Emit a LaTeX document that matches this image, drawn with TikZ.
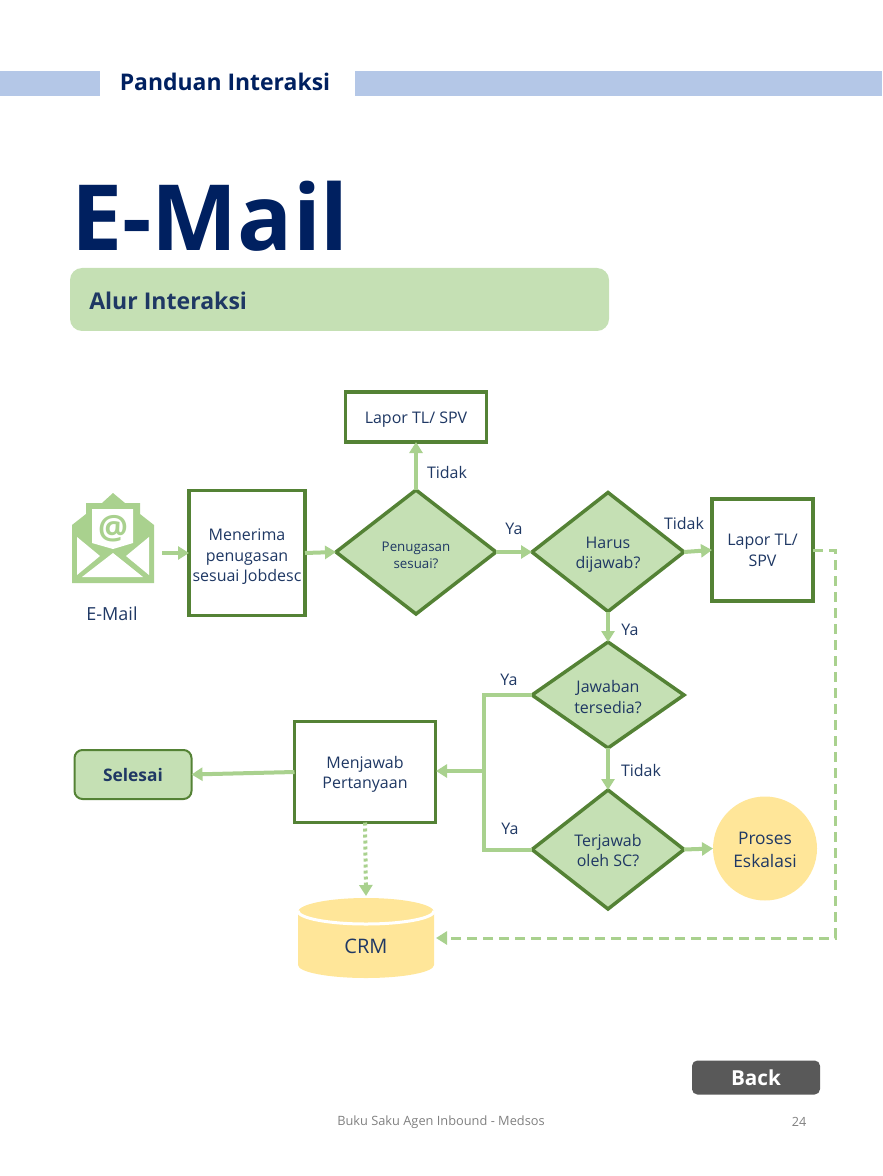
\documentclass[tikz,border=0pt]{standalone}
\usepackage{fontspec}
\setmainfont{Open Sans}
\usetikzlibrary{arrows.meta,calc,positioning,shapes.geometric}
\definecolor{DarkGreen}{HTML}{548235}
\definecolor{LightGreen}{HTML}{C5E0B4}
\definecolor{ArrowGreen}{HTML}{A9D18E}
\definecolor{Navy}{HTML}{1F3864}
\definecolor{TitleBlue}{HTML}{002060}
\definecolor{BarBlue}{HTML}{B4C7E7}
\definecolor{CrmYellow}{HTML}{FFE699}
\newcommand{\px}{0.75pt}
\tikzstyle{box} = [rectangle, draw=DarkGreen, line width=3.5*\px, fill=white, text=Navy, align=center, outer sep=0pt, inner sep=0pt, font=\fontsize{12}{15.5}\selectfont]
\tikzstyle{decision} = [diamond, draw=DarkGreen, line width=3.5*\px, fill=LightGreen, text=Navy, align=center, outer sep=0pt, inner sep=0pt, font=\fontsize{12}{15.5}\selectfont]
\tikzstyle{lbl} = [text=Navy, font=\fontsize{12}{14}\selectfont]
\tikzstyle{arrowg} = [draw=ArrowGreen, line width=4*\px, -{Triangle[length=11*\px,width=13*\px]}]
\tikzset{lowered/.style={execute at begin node=\rule{0pt}{#1}}}
\begin{document}
\begin{tikzpicture}[x=\px,y=-\px]
\useasboundingbox (0,0) rectangle (882,1176);
% header
\fill[BarBlue] (0,71) rectangle (100,96);
\fill[BarBlue] (355,71) rectangle (882,96);
\node[text=TitleBlue, font=\fontsize{17.2}{20}\bfseries\selectfont] (head) at (225,81.5) {Panduan Interaksi};
\node[text=TitleBlue, font=\fontsize{68.5}{70}\bfseries\selectfont] (title) at (210,216) {E-Mail};
\node[fill=LightGreen, rounded corners=9pt, minimum width=539*\px, minimum height=63*\px, inner sep=0pt] (band) at (339.5,299.5) {};
\node[text=Navy, font=\fontsize{17.3}{20}\bfseries\selectfont, anchor=west, inner sep=0pt] (alur) at (89,301) {Alur Interaksi};
% mail icon
\fill[ArrowGreen] (72,525)--(86,514)--(86,503)--(102,503)--(113,493)--(125,503)--(140,503)--(140,514)--(154,525)--(154,583)--(72,583)--cycle;
\fill[white] (92,509)--(133,509)--(133,543)--(113,549)--(92,543)--cycle;
\fill[white] (77,537)--(100,556)--(77,575)--cycle;
\fill[white] (149,537)--(126,556)--(149,575)--cycle;
\fill[white] (82,577)--(113,553)--(143,577)--cycle;
\node[text=ArrowGreen, font=\fontsize{25}{27}\bfseries\selectfont, inner sep=0pt] (at) at (113,529) {@};
\coordinate (mailout) at (162,553);
\node[lbl, font=\fontsize{13.5}{15}\selectfont] (mail) at (112,614) {E-Mail};
% flow
\node[box, lowered=45.5pt, minimum width=116*\px, minimum height=125*\px] (terima) at (247,553) {Menerima\\penugasan\\sesuai Jobdesc};
\node[decision, lowered=25.3pt, minimum width=160*\px, minimum height=124*\px, font=\fontsize{10}{13.3}\selectfont] (sesuai) at (416,552) {Penugasan\\sesuai?};
\node[box, lowered=12pt, minimum width=141*\px, minimum height=50*\px] (tl1) at (416,417) {Lapor TL/ SPV};
\node[decision, lowered=27.9pt, minimum width=152*\px, minimum height=119*\px] (harus) at (608,552) {Harus\\dijawab?};
\node[box, lowered=24.9pt, minimum width=101*\px, minimum height=102*\px] (tl2) at (762.5,550) {Lapor TL/\\SPV};
\node[decision, lowered=28pt, minimum width=152*\px, minimum height=106*\px] (jawaban) at (608,695) {Jawaban\\tersedia?};
\node[decision, lowered=26pt, minimum width=152*\px, minimum height=119*\px] (sc) at (608,849.5) {Terjawab\\oleh SC?};
\node[circle, lowered=28pt, fill=CrmYellow, minimum size=104*\px, inner sep=0pt, outer sep=0pt, text=Navy, align=center, font=\fontsize{13}{17}\selectfont] (eskalasi) at (765,848.5) {Proses\\Eskalasi};
\node[box, lowered=27.9pt, minimum width=141*\px, minimum height=101*\px] (jawab) at (365,772) {Menjawab\\Pertanyaan};
\node[draw=DarkGreen, line width=2*\px, fill=LightGreen, rounded corners=6pt, minimum width=117*\px, minimum height=49*\px, inner sep=0pt, outer sep=0pt, text=Navy, font=\fontsize{13}{15}\bfseries\selectfont] (selesai) at (133,774.5) {Selesai};
% crm
\fill[CrmYellow] (298,912) -- (298,965) arc[start angle=180, end angle=360, x radius=68, y radius=-13] -- (434,912) arc[start angle=0, end angle=180, x radius=68, y radius=-14] -- cycle;
\draw[white, line width=3*\px] (298,911) arc[start angle=180, end angle=360, x radius=68, y radius=-13];
\node[minimum width=136*\px, minimum height=80*\px, inner sep=0pt, outer sep=0pt] (crm) at (366,938) {};
\node[text=Navy, font=\fontsize{15}{17}\selectfont] (crmtxt) at (366,946) {CRM};
% connectors
\coordinate (crmtop) at (366,896);
\coordinate (crmright) at (436,938);
\coordinate (elbow) at (484,771);
\coordinate (jawabin) at (436,771);
\coordinate (dashtop) at (835,550);
\coordinate (dashbot) at (835,938);
\draw[arrowg] (mailout) -- (terima.west);
\draw[arrowg] (terima.east) -- (sesuai.west);
\draw[arrowg] (sesuai.north) -- (tl1.south);
\draw[arrowg] (sesuai.east) -- (harus.west);
\draw[arrowg] (harus.east) -- (tl2.west);
\draw[arrowg] (harus.south) -- (jawaban.north);
\draw[arrowg] (jawaban.south) -- (sc.north);
\draw[arrowg] (sc.east) -- (eskalasi.west);
\draw[arrowg, -] (jawaban.west) -| (elbow);
\draw[arrowg, -] (sc.west) -| (elbow);
\draw[arrowg] (elbow) -- (jawabin);
\draw[arrowg] (jawab.west) -- (selesai.east);
\draw[arrowg, dash pattern=on 3*\px off 3*\px] (jawab.south) -- (crmtop);
\draw[arrowg, line width=3*\px, dash pattern=on 10*\px off 6*\px] (tl2.east) -- (dashtop) -- (dashbot) -- (crmright);
% labels
\node[lbl] (n1) at (447,472.5) {Tidak};
\node[lbl] (y1) at (514,529) {Ya};
\node[lbl] (n2) at (684,523.5) {Tidak};
\node[lbl] (y2) at (630,630) {Ya};
\node[lbl] (y3) at (509,680) {Ya};
\node[lbl] (n3) at (641,770.5) {Tidak};
\node[lbl] (y4) at (510,829) {Ya};
% footer
\node[fill=black!65, rounded corners=4pt, minimum width=128*\px, minimum height=34*\px, inner sep=0pt, text=white, font=\fontsize{15.5}{18}\bfseries\selectfont] (back) at (756,1077.5) {Back};
\node[text=black!50, font=\fontsize{9.6}{11}\selectfont] (foot) at (441,1122) {Buku Saku Agen Inbound - Medsos};
\node[text=black!50, font=\fontsize{9.5}{11}\selectfont] (page) at (799,1122) {24};
\end{tikzpicture}
\end{document}
